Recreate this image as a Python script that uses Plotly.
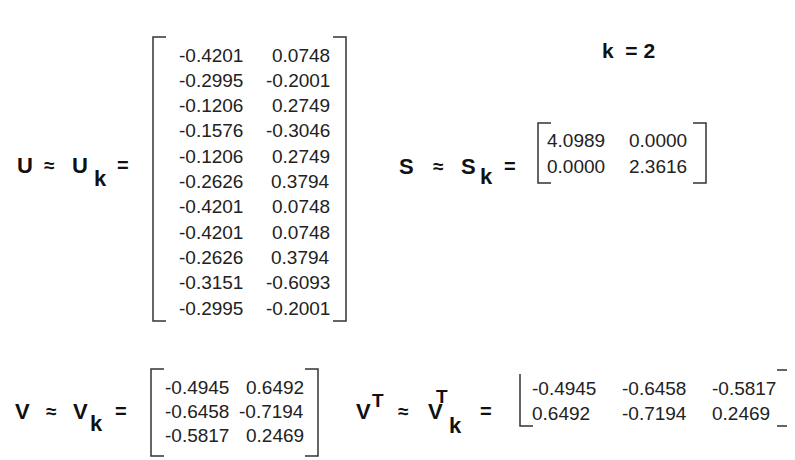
import plotly.graph_objects as go

# matrix values (k = 2 truncated SVD)
u_k = [
    [-0.4201, 0.0748],
    [-0.2995, -0.2001],
    [-0.1206, 0.2749],
    [-0.1576, -0.3046],
    [-0.1206, 0.2749],
    [-0.2626, 0.3794],
    [-0.4201, 0.0748],
    [-0.4201, 0.0748],
    [-0.2626, 0.3794],
    [-0.3151, -0.6093],
    [-0.2995, -0.2001],
]
s_k = [
    [4.0989, 0.0000],
    [0.0000, 2.3616],
]
v_k = [
    [-0.4945, 0.6492],
    [-0.6458, -0.7194],
    [-0.5817, 0.2469],
]
vt_k = [
    [-0.4945, -0.6458, -0.5817],
    [0.6492, -0.7194, 0.2469],
]
k_value = 2

FONT = "Liberation Sans"
NUM = dict(family=FONT, size=19, color="#222")
BOLD = dict(family=FONT, size=21, color="#111", weight="bold")

fig = go.Figure()


def text(x, y, s, font, anchor="center"):
    fig.add_annotation(x=x, y=y, text=s, showarrow=False, font=font,
                       xanchor=anchor, yanchor="middle", borderpad=0)


def matrix(values, col_x, y0, dy, anchor, box, left_top=True, right_top=True):
    for i, row in enumerate(values):
        for j, v in enumerate(row):
            text(col_x[j], y0 + i * dy, f"{v:.4f}", NUM, anchor)
    x0, x1, top, bot = box
    ser = 13
    lt = f"M{x0 + ser},{top} L{x0},{top} " if left_top else f"M{x0},{top + 4} "
    fig.add_shape(type="path", path=lt + f"L{x0},{bot} L{x0 + ser},{bot}",
                  line=dict(color="#333", width=1.5), xref="x", yref="y")
    rt = f"M{x1 - ser},{top} L{x1},{top} " if right_top else f"M{x1},{top + 4} "
    fig.add_shape(type="path", path=rt + f"L{x1},{bot} L{x1 - ser},{bot}",
                  line=dict(color="#333", width=1.5), xref="x", yref="y")


def label(parts, y):
    for x, s, dy, size in parts:
        f = dict(BOLD)
        f["size"] = size
        text(x, y + dy, s, f)


# U
label([(17, "U", 0, 22), (41, "≈", 0, 19), (72, "U", 0, 22), (92, "k", 13, 22), (115, "=", 0, 20)], 157)
matrix(u_k, [236, 323], 47, 25.3, "right", (145, 338, 29, 313))

# k = 2
text(620, 42, f"k  = {k_value}", BOLD)

# S
label([(398, "S", 0, 22), (430, "≈", 0, 19), (460, "S", 0, 22), (478, "k", 10, 22), (502, "=", 0, 20)], 158)
matrix(s_k, [538, 620], 132, 26, "left", (530, 698, 115, 175))

# V
label([(14, "V", 0, 22), (43, "≈", 0, 19), (72, "V", 0, 22), (88, "k", 12, 22), (113, "=", 0, 20)], 403)
matrix(v_k, [222, 297], 379, 24, "right", (143, 310, 361, 448))

# V^T
label([(355, "V", 0, 22), (370, "T", -11, 19), (395, "≈", 0, 19), (427, "V", 0, 22),
       (434, "T", -15, 19), (447, "k", 14, 22), (478, "=", 0, 20)], 403)
matrix(vt_k, [523, 613, 703], 380, 25, "left", (512, 782, 362, 418), left_top=False)

fig.update_xaxes(range=[0, 795], visible=False)
fig.update_yaxes(range=[460, 0], visible=False)
fig.update_layout(width=795, height=460, margin=dict(l=0, r=0, t=0, b=0),
                  plot_bgcolor="white", paper_bgcolor="white", showlegend=False)
fig.write_html("out.html")
